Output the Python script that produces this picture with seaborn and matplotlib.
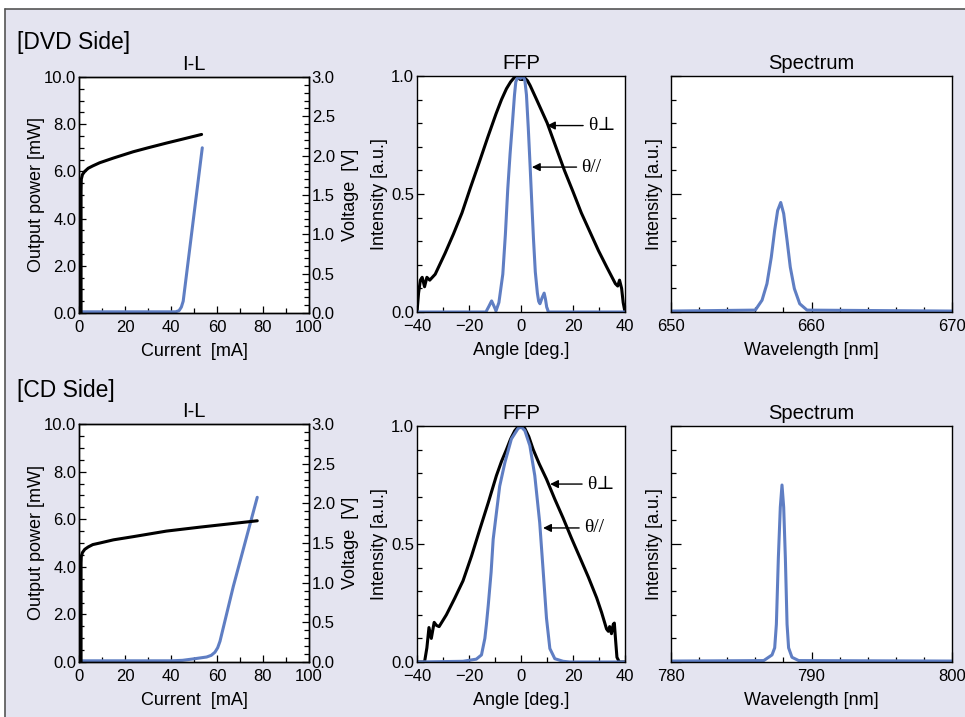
import numpy as np
import pandas as pd
import matplotlib
matplotlib.use("Agg")
import matplotlib.pyplot as plt
import seaborn as sns
from matplotlib.ticker import MultipleLocator, NullFormatter, FormatStrFormatter
from matplotlib.lines import Line2D
from matplotlib.patches import Rectangle

sns.set_theme(style="ticks")
plt.rcParams['font.family'] = ['Liberation Sans', 'DejaVu Sans']
plt.rcParams['text.color'] = 'black'
plt.rcParams['axes.labelcolor'] = 'black'
plt.rcParams['xtick.color'] = 'black'
plt.rcParams['ytick.color'] = 'black'

# ---------------- DATA ----------------
# DVD side I-L
dvd_iv_current = [0.9, 0.9, 1.0, 1.5, 2.5, 4.0, 6.0, 9.0, 15.0, 23.6, 30.0, 38.0, 45.0, 53.3]
dvd_voltage = [0.0, 1.55, 1.70, 1.76, 1.80, 1.84, 1.87, 1.91, 1.97, 2.05, 2.10, 2.16, 2.21, 2.27]
dvd_il_current = [0.0, 42.0, 43.5, 44.5, 45.3, 53.6]
dvd_power = [0.05, 0.05, 0.10, 0.25, 0.50, 7.0]

# CD side I-L
cd_iv_current = [0.9, 0.9, 1.0, 1.5, 2.5, 4.0, 6.0, 9.1, 15.0, 23.6, 38.0, 52.6, 77.5]
cd_voltage = [0.0, 1.25, 1.33, 1.38, 1.42, 1.45, 1.48, 1.50, 1.54, 1.58, 1.65, 1.70, 1.78]
cd_il_current = [0.0, 40.0, 45.0, 49.7, 55.5, 57.5, 59.1, 60.3, 61.3, 67.1, 77.5]
cd_power = [0.05, 0.05, 0.07, 0.13, 0.21, 0.28, 0.41, 0.60, 0.87, 3.18, 6.92]

# DVD side FFP
dvd_perp_angle = [-40, -39.4, -38.7, -38.0, -37.1, -36.2, -35.1, -33, -29.2, -26, -22.7, -19.5,
                  -16.1, -12.8, -9.6, -7.5, -5.6, -4, -2.4, -1.4, -0.4, 0.6, 1.6, 2.5, 3.5, 6,
                  10.1, 13.4, 16.7, 20, 23.2, 26.5, 29.8, 33, 36.3, 37.2, 37.9, 38.7, 39.3, 40]
dvd_perp_int = [0, 0.08, 0.135, 0.147, 0.107, 0.147, 0.135, 0.16, 0.249, 0.33, 0.42, 0.525,
                0.633, 0.74, 0.84, 0.90, 0.946, 0.975, 0.996, 1.0, 0.986, 0.985, 0.99, 0.98, 0.96, 0.90,
                0.80, 0.70, 0.60, 0.51, 0.42, 0.34, 0.26, 0.19, 0.12, 0.11, 0.135, 0.10, 0.04, 0]
dvd_par_angle = [-40, -13.5, -12.3, -11.3, -10.4, -9.6, -8.5, -7.0, -6.0, -5.1, -4.2, -3.3, -2.5,
                 -2.0, -1.1, -0.2, 0.8, 1.5, 2.1, 2.8, 3.5, 4.2, 4.8, 5.5, 6.3, 6.8, 7.3, 8.1,
                 8.9, 9.4, 9.9, 10.6, 40]
dvd_par_int = [0, 0, 0.025, 0.047, 0.025, 0.005, 0.04, 0.16, 0.33, 0.52, 0.67, 0.80, 0.92,
               0.975, 1.0, 0.99, 1.0, 0.98, 0.92, 0.78, 0.62, 0.45, 0.31, 0.17, 0.08, 0.045, 0.035, 0.06,
               0.08, 0.055, 0.02, 0, 0]

# CD side FFP
cd_perp_angle = [-40, -37.1, -36.2, -35.4, -34.5, -33.4, -32.5, -31.5, -28.7, -25.5, -22.3, -19,
                 -15.9, -12.6, -9.45, -7.5, -5.6, -4, -2.4, -1.4, -0.46, 0.5, 1.46, 3, 4.7, 7, 9.8,
                 13, 16.2, 19.4, 22.6, 25.9, 29.1, 31, 32.9, 33.6, 34.1, 34.8, 35.5, 35.9, 36.4,
                 36.9, 37.8, 40]
cd_perp_int = [0, 0, 0.06, 0.146, 0.10, 0.168, 0.155, 0.15, 0.20, 0.27, 0.344, 0.45,
               0.56, 0.675, 0.79, 0.85, 0.90, 0.945, 0.98, 0.993, 0.995, 0.995, 0.99, 0.955, 0.90, 0.84, 0.775,
               0.69, 0.61, 0.525, 0.444, 0.36, 0.272, 0.21, 0.14, 0.13, 0.15, 0.12, 0.16, 0.165, 0.09,
               0.02, 0, 0]
cd_par_angle = [-40, -22.3, -17.2, -15.2, -13.9, -13.3, -12.6, -11.5, -10.7, -8.2, -6.2, -3.7, -1.1,
                0.2, 1.5, 3.4, 5.3, 7.2, 8.5, 9.8, 11.1, 13.0, 16.2, 18.8, 40]
cd_par_int = [0, 0.003, 0.012, 0.03, 0.10, 0.16, 0.24, 0.38, 0.52, 0.745, 0.845, 0.945, 0.99,
              0.995, 0.98, 0.917, 0.79, 0.59, 0.39, 0.186, 0.057, 0.014, 0.003, 0, 0]

# Spectra
dvd_wavelength = [650, 656.0, 656.48, 656.83, 657.14, 657.38, 657.59, 657.81, 658.02, 658.26,
                  658.49, 658.78, 659.16, 659.68, 670]
dvd_spec = [0.004, 0.008, 0.05, 0.12, 0.233, 0.347, 0.43, 0.464, 0.417, 0.304,
            0.19, 0.099, 0.035, 0.008, 0.004]
cd_wavelength = [780, 786.6, 787.19, 787.38, 787.5, 787.64, 787.78, 787.9, 788.02, 788.14,
                 788.26, 788.37, 788.61, 789.09, 800]
cd_spec = [0.004, 0.006, 0.03, 0.06, 0.16, 0.44, 0.656, 0.75, 0.656, 0.44,
           0.16, 0.06, 0.02, 0.006, 0.004]

# ---------------- STYLE ----------------
BLUE = "#5f7ec3"
BLACK = "black"
BG = "#e4e4f0"
W, H = 965, 717
TICK_FS = 12
LABEL_FS = 13
TITLE_FS = 14.5

fig = plt.figure(figsize=(W / 100, H / 100), dpi=100)
fig.patch.set_facecolor("white")
fig.add_artist(Rectangle((5 / W, 0), 1, 1 - 9 / H, transform=fig.transFigure,
                         facecolor=BG, edgecolor="none", zorder=-10))
fig.add_artist(Line2D([5 / W, 5 / W], [0, 1 - 9 / H], transform=fig.transFigure, color="#555555", lw=1.2))
fig.add_artist(Line2D([5 / W, 1], [1 - 9 / H, 1 - 9 / H], transform=fig.transFigure, color="#555555", lw=1.2))


def pos(l, t, r, b):
    return [l / W, 1 - b / H, (r - l) / W, (b - t) / H]


def style(ax):
    ax.set_facecolor("white")
    for s in ax.spines.values():
        s.set_visible(True)
        s.set_color("black")
        s.set_linewidth(1.0)
    ax.tick_params(which="both", direction="in", colors="black", labelcolor="black",
                   labelsize=TICK_FS, pad=2, width=0.9)
    ax.tick_params(which="major", length=5)
    ax.tick_params(which="minor", length=3.5)
    ax.tick_params(axis="x", pad=5)


def line(ax, x, y, color, lw=2.2):
    df = pd.DataFrame({"x": x, "y": y})
    sns.lineplot(data=df, x="x", y="y", ax=ax, color=color, lw=lw, sort=False, estimator=None)


def il_panel(rect, iv_i, iv_v, il_i, il_p):
    ax = fig.add_axes(rect)
    style(ax)
    line(ax, il_i, il_p, BLUE)
    ax.set_xlim(0, 100)
    ax.set_ylim(0, 10)
    ax.xaxis.set_major_locator(MultipleLocator(20))
    ax.xaxis.set_minor_locator(MultipleLocator(10))
    ax.yaxis.set_major_locator(MultipleLocator(2))
    ax.yaxis.set_minor_locator(MultipleLocator(0.5))
    ax.yaxis.set_major_formatter(FormatStrFormatter("%.1f"))
    ax.set_xlabel("Current  [mA]", fontsize=LABEL_FS, labelpad=5.5)
    ax.set_ylabel("Output power [mW]", fontsize=LABEL_FS, labelpad=-1)
    ax.set_title("I-L", fontsize=TITLE_FS, pad=5)
    ax2 = ax.twinx()
    style(ax2)
    ax2.patch.set_visible(False)
    line(ax2, iv_i, iv_v, BLACK)
    ax2.set_ylim(0, 3)
    ax2.yaxis.set_major_locator(MultipleLocator(0.5))
    ax2.yaxis.set_minor_locator(MultipleLocator(0.1))
    ax2.yaxis.set_major_formatter(FormatStrFormatter("%.1f"))
    ax2.set_ylabel("Voltage  [V]", fontsize=LABEL_FS, labelpad=5)
    ax2.set_xlabel("")
    return ax


def ffp_panel(rect, pa, pi, qa, qi, perp_xy, perp_txt, par_xy, par_txt):
    ax = fig.add_axes(rect)
    style(ax)
    line(ax, pa, pi, BLACK)
    line(ax, qa, qi, BLUE)
    ax.set_xlim(-40, 40)
    ax.set_ylim(0, 1)
    ax.xaxis.set_major_locator(MultipleLocator(20))
    ax.xaxis.set_minor_locator(MultipleLocator(10))
    ax.yaxis.set_major_locator(MultipleLocator(0.5))
    ax.yaxis.set_minor_locator(MultipleLocator(0.1))
    ax.yaxis.set_major_formatter(FormatStrFormatter("%.1f"))
    ax.set_xlabel("Angle [deg.]", fontsize=LABEL_FS, labelpad=5.5)
    ax.set_ylabel("Intensity [a.u.]", fontsize=LABEL_FS, labelpad=2)
    ax.set_title("FFP", fontsize=TITLE_FS, pad=5)
    for xy, txt, label in [(perp_xy, perp_txt, "θ⊥"), (par_xy, par_txt, "θ//")]:
        ax.annotate(label, xy=xy, xytext=txt, ha="center", va="center",
                    fontsize=14, family=["Liberation Serif", "DejaVu Serif"],
                    arrowprops=dict(arrowstyle="-|>", color="black", lw=1.0,
                                    mutation_scale=12, shrinkA=1, shrinkB=0))
    return ax


def spec_panel(rect, wl, sp, lo, hi):
    ax = fig.add_axes(rect)
    style(ax)
    line(ax, wl, sp, BLUE)
    ax.set_xlim(lo, hi)
    ax.set_ylim(0, 1)
    ax.xaxis.set_major_locator(MultipleLocator(10))
    ax.xaxis.set_minor_locator(MultipleLocator(2))
    ax.yaxis.set_major_locator(MultipleLocator(0.5))
    ax.yaxis.set_minor_locator(MultipleLocator(0.1))
    ax.yaxis.set_major_formatter(NullFormatter())
    ax.tick_params(which="major", length=7)
    ax.set_xlabel("Wavelength [nm]", fontsize=LABEL_FS, labelpad=5.5)
    ax.set_ylabel("Intensity [a.u.]", fontsize=LABEL_FS, labelpad=4)
    ax.set_title("Spectrum", fontsize=TITLE_FS, pad=5)
    return ax


# Top row: DVD
il_panel(pos(79, 77, 309, 313), dvd_iv_current, dvd_voltage, dvd_il_current, dvd_power)
ffp_panel(pos(417, 76, 625, 312), dvd_perp_angle, dvd_perp_int, dvd_par_angle, dvd_par_int,
          (10.0, 0.79), (31.0, 0.79), (4.2, 0.614), (27.0, 0.614))
spec_panel(pos(671, 76, 952, 312), dvd_wavelength, dvd_spec, 650, 670)

# Bottom row: CD
il_panel(pos(79, 424, 309, 662), cd_iv_current, cd_voltage, cd_il_current, cd_power)
ffp_panel(pos(417, 426, 625, 662), cd_perp_angle, cd_perp_int, cd_par_angle, cd_par_int,
          (11.2, 0.754), (30.6, 0.754), (8.5, 0.568), (28.0, 0.568))
spec_panel(pos(671, 426, 952, 662), cd_wavelength, cd_spec, 780, 800)

fig.text(17 / W, 1 - 42 / H, "[DVD Side]", fontsize=16.5, va="center", ha="left")
fig.text(17 / W, 1 - 391 / H, "[CD Side]", fontsize=16.5, va="center", ha="left")

fig.savefig("out.png", dpi=100, facecolor=fig.get_facecolor())
